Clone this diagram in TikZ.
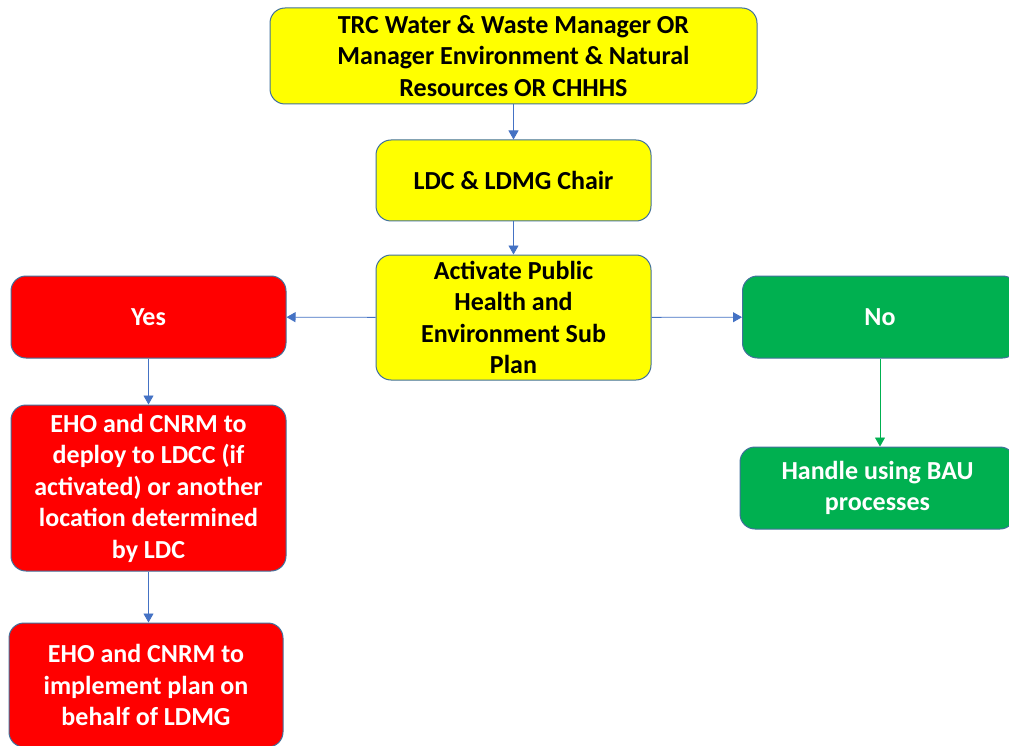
\documentclass[tikz,border=0pt]{standalone}
\usepackage{fontspec}
\setmainfont{Carlito}
\usetikzlibrary{arrows.meta}
\definecolor{yel}{HTML}{FFFF00}
\definecolor{rd}{HTML}{FF0000}
\definecolor{gr}{HTML}{00B050}
\definecolor{edge}{HTML}{41719C}
\definecolor{arr}{HTML}{4472C4}
\tikzset{
  box/.style={draw=edge, line width=1pt, rounded corners=15pt, inner sep=0pt, align=center,
    font=\fontsize{26}{31.5}\selectfont\bfseries},
  ybox/.style={box, fill=yel, text=black},
  rbox/.style={box, fill=rd, text=white},
  gbox/.style={box, fill=gr, text=white},
  conn/.style={draw=arr, line width=0.9pt, -{Triangle[width=10pt,length=9pt]}},
  gconn/.style={draw=gr, line width=0.9pt, -{Triangle[width=10pt,length=9pt]}}
}
\begin{document}
\begin{tikzpicture}[x=1pt,y=-1pt]
\clip (0,0) rectangle (1009,746);
\fill[white] (0,0) rectangle (1009,746);
\node[ybox, minimum width=487pt, minimum height=96pt] (top) at (513.5,56) {TRC Water \& Waste Manager OR\\Manager Environment \& Natural\\Resources OR CHHHS};
\node[ybox, minimum width=275pt, minimum height=81pt] (ldc) at (513.5,180.5) {LDC \& LDMG Chair};
\node[ybox, minimum width=275pt, minimum height=125pt] (act) at (513.5,317.5) {Activate Public\\Health and\\Environment Sub\\Plan};
\node[rbox, minimum width=275pt, minimum height=82pt] (yes) at (148.5,317) {Yes};
\node[gbox, minimum width=275pt, minimum height=82pt] (no) at (880,317) {No};
\node[rbox, minimum width=275pt, minimum height=166pt] (eho1) at (148.5,488) {EHO and CNRM to\\deploy to LDCC (if\\activated) or another\\location determined\\by LDC};
\node[rbox, minimum width=274pt, minimum height=124pt] (eho2) at (146,685) {EHO and CNRM to\\implement plan on\\behalf of LDMG};
\node[gbox, minimum width=275pt, minimum height=82pt] (bau) at (877.5,488) {Handle using BAU\\processes};
\draw[conn] (top) -- (ldc);
\draw[conn] (ldc) -- (act);
\draw[conn] (act) -- (yes);
\draw[conn] (act) -- (no);
\draw[conn] (yes.south) -- (yes.south |- eho1.north);
\draw[conn] (eho1.south) -- (eho1.south |- eho2.north);
\draw[gconn] (no.south) -- (no.south |- bau.north);
\end{tikzpicture}
\end{document}
